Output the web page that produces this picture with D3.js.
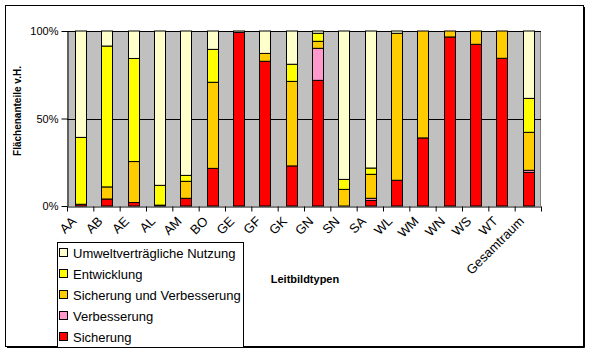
<!DOCTYPE html>
<html>
<head>
<meta charset="utf-8">
<script src="https://cdn.jsdelivr.net/npm/d3@7"></script>
<style>
body { margin: 0; background: #fff; }
svg { display: block; font-family: "Liberation Sans", Arial, sans-serif; }
</style>
</head>
<body>
<div id="container"></div>
<script>
var WIDTH = 590,
	HEIGHT = 352,
	PLOT_LEFT = 67,
	PLOT_RIGHT = 541,
	PLOT_TOP = 31,
	PLOT_BOTTOM = 206;

var categories = ["AA", "AB", "AE", "AL", "AM", "BO", "GE", "GF", "GK", "GN", "SN", "SA", "WL", "WM", "WN", "WS", "WT", "Gesamtraum"];
var sicherung = [1, 4, 2, 0.5, 4.4, 21.5, 99.2, 82.7, 22.9, 71.8, 0, 3.2, 14.7, 38.9, 96.6, 92.4, 84.4, 19.2];
var verbesserung = [0, 0, 0, 0, 0, 0, 0, 0, 0, 18.3, 0, 1.2, 0, 0, 0, 0, 0, 1.2];
var sicherungVerbesserung = [0, 6.9, 23.4, 0, 9.7, 49.2, 0, 4.5, 48.3, 4, 9.5, 13.7, 84, 61.1, 3.4, 7.6, 15.6, 21.7];
var entwicklung = [38.2, 80.5, 58.9, 11.3, 3.4, 18.8, 0, 0, 9.8, 4.6, 5.7, 3.6, 0, 0, 0, 0, 0, 19.4];
var umwelt = [60.8, 8.6, 15.7, 88.2, 82.5, 10.5, 0.8, 12.8, 19, 1.3, 84.8, 78.3, 1.3, 0, 0, 0, 0, 38.5];
var yTicks = [0, 50, 100];

// stacking order bottom -> top
var seriesKeys = ["Sicherung", "Verbesserung", "Sicherung und Verbesserung", "Entwicklung", "Umweltverträgliche Nutzung"];
var seriesValues = [sicherung, verbesserung, sicherungVerbesserung, entwicklung, umwelt];
var colors = ["#ff0000", "#ff99cc", "#ffcc00", "#ffff00", "#ffffcc"];

var rows = categories.map(function(c, i) {
	var r = {cat: c};
	seriesKeys.forEach(function(k, j) { r[k] = seriesValues[j][i]; });
	return r;
});

var translate = function(x, y) {
	return "translate(" + x + "," + y + ")";
};

var xScale = d3.scaleBand().domain(categories).range([PLOT_LEFT, PLOT_RIGHT]).paddingInner(0.6).paddingOuter(0.3);
var xEdge = d3.scaleLinear().domain([0, categories.length]).range([PLOT_LEFT, PLOT_RIGHT]);
var yScale = d3.scaleLinear().domain([0, 100]).range([PLOT_BOTTOM, PLOT_TOP]);
var color = d3.scaleOrdinal().domain(seriesKeys).range(colors);

var svg = d3.select('#container').append('svg')
	.attr('width', WIDTH)
	.attr('height', HEIGHT);

// outer frame with shadow
svg.append('rect')
	.attr('x', 5.5).attr('y', 5.5).attr('width', 578).attr('height', 341)
	.attr('fill', '#fff').attr('stroke', '#000');
svg.append('path')
	.attr('d', 'M7,347.5H584.5V7')
	.attr('fill', 'none').attr('stroke', '#000');

// plot background
svg.append('rect')
	.attr('x', PLOT_LEFT).attr('y', PLOT_TOP)
	.attr('width', PLOT_RIGHT - PLOT_LEFT).attr('height', PLOT_BOTTOM - PLOT_TOP)
	.attr('fill', '#c0c0c0');
svg.append('path')
	.attr('d', 'M' + (PLOT_RIGHT - 0.5) + ',' + PLOT_TOP + 'V' + PLOT_BOTTOM)
	.attr('stroke', '#808080').attr('fill', 'none');

// gridlines
svg.selectAll('line.grid').data(yTicks.filter(function(d) { return d > 0; })).enter()
	.append('line')
	.classed('grid', true)
	.attr('x1', PLOT_LEFT).attr('x2', PLOT_RIGHT)
	.attr('y1', function(d) { return Math.round(yScale(d)) + 0.5; })
	.attr('y2', function(d) { return Math.round(yScale(d)) + 0.5; })
	.attr('stroke', '#000');

// bars
var stacked = d3.stack().keys(seriesKeys)(rows);
svg.selectAll('g.series').data(stacked).enter()
	.append('g')
	.classed('series', true)
	.attr('fill', function(d) { return color(d.key); })
	.selectAll('rect')
	.data(function(d) { return d.filter(function(s) { return s[1] - s[0] > 0; }); })
	.enter()
	.append('rect')
	.attr('x', function(d) { return Math.round(xScale(d.data.cat)) + 0.5; })
	.attr('width', Math.round(xScale.bandwidth()))
	.attr('y', function(d) { return yScale(d[1]); })
	.attr('height', function(d) { return yScale(d[0]) - yScale(d[1]); })
	.attr('stroke', '#000')
	.attr('stroke-width', 1);

// axes
var yAxis = d3.axisLeft(yScale).tickValues(yTicks).tickSize(6).tickSizeOuter(0).tickPadding(3)
	.tickFormat(function(d) { return d + '%'; });
var gy = svg.append('g')
	.attr('transform', translate(PLOT_LEFT + 0.5, 0))
	.call(yAxis);
gy.selectAll('text').attr('font-size', 11).attr('font-family', '"Liberation Sans", Arial, sans-serif').attr('fill', '#000');
gy.selectAll('line, path').attr('stroke', '#000');

var xAxis = d3.axisBottom(xEdge).tickValues(d3.range(categories.length + 1)).tickSize(5).tickSizeOuter(0)
	.tickFormat('');
var gx = svg.append('g')
	.attr('transform', translate(0, PLOT_BOTTOM + 0.5))
	.call(xAxis);
gx.selectAll('line, path').attr('stroke', '#000');

// category labels
svg.selectAll('text.cat').data(categories).enter()
	.append('text')
	.classed('cat', true)
	.attr('transform', function(d) {
		return translate(xScale(d) + xScale.bandwidth() / 2 - 3, 222) + ' rotate(-45)';
	})
	.attr('text-anchor', 'end')
	.attr('font-size', 13)
	.text(function(d) { return d; });

// axis titles
svg.append('text')
	.attr('transform', translate(21, 111) + ' rotate(-90)')
	.attr('text-anchor', 'middle')
	.attr('font-size', 10)
	.attr('font-weight', 'bold')
	.text('Flächenanteile v.H.');

svg.append('text')
	.attr('x', 305).attr('y', 283)
	.attr('text-anchor', 'middle')
	.attr('font-size', 11)
	.attr('font-weight', 'bold')
	.text('Leitbildtypen');

// legend
var legend = svg.append('g').attr('transform', translate(57, 242));
legend.append('rect')
	.attr('x', 0.5).attr('y', 0.5).attr('width', 186).attr('height', 105)
	.attr('fill', '#fff').attr('stroke', '#000');
var legendKeys = seriesKeys.slice().reverse();
var items = legend.selectAll('g.item').data(legendKeys).enter()
	.append('g')
	.classed('item', true)
	.attr('transform', function(d, i) { return translate(0, 11 + i * 21); });
items.append('rect')
	.attr('x', 2.5).attr('y', -4.5).attr('width', 8).attr('height', 8)
	.attr('fill', function(d) { return color(d); })
	.attr('stroke', '#000');
items.append('text')
	.attr('x', 16).attr('y', 5)
	.attr('font-size', 13)
	.text(function(d) { return d; });
</script>
</body>
</html>
